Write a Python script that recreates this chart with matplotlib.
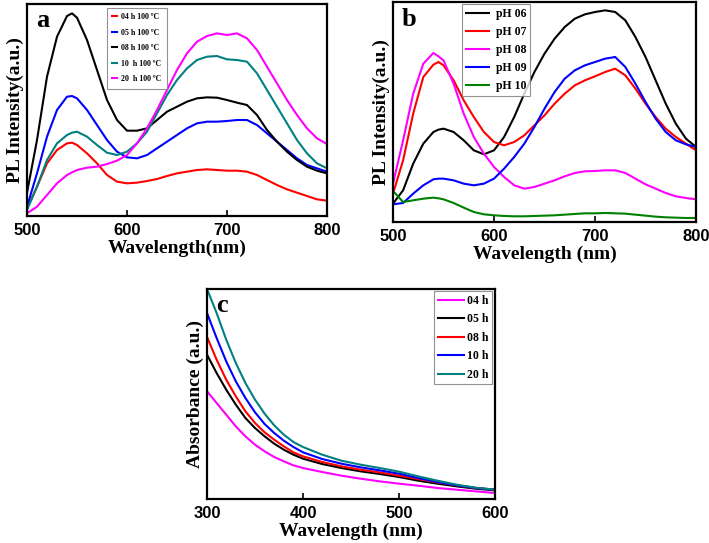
import matplotlib
matplotlib.use('Agg')
import matplotlib.pyplot as plt

# 波长 (nm)
wl_a = [500, 510, 520, 530, 540, 545] + list(range(550, 801, 10))
wl_b = [500, 510, 520, 530, 540, 545] + list(range(550, 801, 10))
wl_c = [300, 310, 320, 330, 340, 350, 360, 370, 380, 390, 400,
        420, 440, 460, 480, 500, 520, 540, 560, 580, 600]

# (a) 不同时间 100 ºC 的 PL 强度
pl_04h = [23, 88, 158, 198, 218, 220, 213, 188, 158, 123, 103, 98, 100, 105, 111, 120, 128,
          133, 138, 140, 138, 136, 136, 133, 123, 108, 93, 80, 70, 60, 50, 46]
pl_05h = [28, 128, 238, 318, 358, 360, 353, 318, 273, 228, 193, 176, 173, 183, 203, 223, 243,
          263, 278, 283, 283, 285, 288, 288, 273, 248, 223, 198, 173, 153, 143, 133]
pl_08h = [70, 228, 418, 538, 600, 608, 595, 528, 438, 348, 288, 256, 256, 263, 288, 313, 328,
          343, 353, 356, 355, 348, 340, 333, 303, 258, 223, 193, 168, 148, 136, 128]
pl_10h = [18, 88, 168, 218, 243, 250, 253, 238, 213, 190, 183, 193, 218, 253, 308, 363, 408,
          443, 468, 478, 480, 470, 468, 463, 428, 378, 328, 278, 228, 188, 158, 143]
pl_20h = [8, 28, 63, 98, 123, 131, 138, 145, 148, 156, 166, 183, 218, 263, 318, 378, 438,
          488, 523, 540, 548, 543, 548, 533, 498, 448, 398, 348, 303, 263, 233, 216]

# (b) 不同 pH 的 PL 强度
pl_ph06 = [55, 95, 175, 235, 270, 277, 280, 270, 245, 215, 203, 215, 255, 315, 385, 450, 505,
           550, 585, 610, 623, 630, 635, 630, 605, 555, 495, 425, 355, 295, 250, 225]
pl_ph07 = [85, 185, 325, 435, 472, 480, 470, 425, 365, 315, 270, 240, 230, 240, 260, 290, 320,
           355, 385, 410, 425, 437, 450, 460, 440, 400, 355, 315, 280, 255, 235, 215]
pl_ph08 = [115, 245, 385, 475, 507, 497, 485, 415, 325, 255, 205, 165, 135, 110, 100, 105, 115,
           125, 137, 147, 152, 153, 155, 155, 147, 130, 113, 100, 87, 77, 72, 68]
pl_ph09 = [53, 57, 85, 110, 128, 130, 130, 125, 115, 110, 115, 130, 160, 195, 235, 285, 340,
           390, 430, 455, 470, 480, 490, 495, 465, 415, 360, 310, 270, 245, 233, 225]
pl_ph10 = [93, 60, 65, 70, 73, 71, 68, 57, 43, 30, 23, 20, 18, 17, 17, 18, 19,
           20, 22, 24, 26, 26, 27, 26, 25, 22, 19, 16, 14, 13, 12, 12]

# (c) 吸收光谱
abs_04h = [323, 288, 253, 218, 188, 163, 143, 126, 113, 101, 93, 81, 70, 61, 53, 46, 40, 33, 28, 23, 18]
abs_05h = [433, 378, 328, 283, 243, 213, 188, 166, 148, 133, 121, 105, 93, 83, 75, 66, 55, 46, 38, 31, 26]
abs_08h = [486, 418, 358, 308, 263, 228, 200, 178, 158, 140, 128, 111, 98, 88, 80, 70, 60, 50, 41, 33, 28]
abs_10h = [558, 483, 413, 353, 303, 260, 225, 198, 175, 156, 140, 120, 106, 95, 86, 76, 63, 51, 41, 33, 28]
abs_20h = [630, 558, 478, 408, 348, 298, 256, 221, 193, 171, 156, 133, 115, 103, 93, 82, 68, 55, 43, 34, 28]

labels_a = ['04 h 100 \u00baC', '05 h 100 \u00baC', '08 h 100 \u00baC', '10  h 100 \u00baC', '20  h 100 \u00baC']
labels_b = ['pH 06', 'pH 07', 'pH 08', 'pH 09', 'pH 10']
labels_c = ['04 h', '05 h', '08 h', '10 h', '20 h']

teal = '#008080'
serif = 'Liberation Serif'
sans = 'Liberation Sans'

fig = plt.figure(figsize=(7.09, 5.43), dpi=100)
ax_a = fig.add_axes([0.0381, 0.6022, 0.4231, 0.3904])
ax_b = fig.add_axes([0.5543, 0.5912, 0.4274, 0.4051])
ax_c = fig.add_axes([0.2920, 0.0810, 0.4062, 0.3867])


def style(ax, xlim, ylim, xticks, xlabel, ylabel, letter):
    ax.set_xlim(*xlim)
    ax.set_ylim(*ylim)
    ax.set_xticks(xticks)
    ax.set_yticks([])
    ax.tick_params(axis='x', direction='in', length=4, width=1.2, pad=5)
    for lab in ax.get_xticklabels():
        lab.set_fontfamily(sans)
        lab.set_fontweight('bold')
        lab.set_fontsize(12)
    for sp in ax.spines.values():
        sp.set_linewidth(1.6)
    ax.set_xlabel(xlabel, fontfamily=serif, fontweight='bold', fontsize=14, labelpad=1)
    ax.set_ylabel(ylabel, fontfamily=serif, fontweight='bold', fontsize=14, labelpad=2)
    ax.text(0.03, 0.975, letter, transform=ax.transAxes, ha='left', va='top',
            fontfamily=serif, fontweight='bold', fontsize=19)


def frame(leg):
    leg.get_frame().set_edgecolor('#777777')
    leg.get_frame().set_linewidth(0.8)


# 图 a
for y, c, lab in zip([pl_04h, pl_05h, pl_08h, pl_10h, pl_20h],
                     ['red', 'blue', 'black', teal, 'magenta'], labels_a):
    ax_a.plot(wl_a, y, color=c, lw=1.5, label=lab)
style(ax_a, (500, 800), (0, 636), [500, 600, 700, 800], 'Wavelength(nm)', 'PL Intensity(a.u.)', 'a')
frame(ax_a.legend(loc='upper left', bbox_to_anchor=(0.265, 0.983), frameon=True, fancybox=False,
                  handlelength=0.6, handletextpad=0.5, labelspacing=0.95, borderpad=0.7,
                  borderaxespad=0, prop={'family': serif, 'weight': 'bold', 'size': 5.7}))

# 图 b
for y, c, lab in zip([pl_ph06, pl_ph07, pl_ph08, pl_ph09, pl_ph10],
                     ['black', 'red', 'magenta', 'blue', 'green'], labels_b):
    ax_b.plot(wl_b, y, color=c, lw=1.5, label=lab)
style(ax_b, (500, 800), (0, 660), [500, 600, 700, 800], 'Wavelength (nm)', 'PL Intensity(a.u.)', 'b')
frame(ax_b.legend(loc='upper left', bbox_to_anchor=(0.228, 0.99), frameon=True, fancybox=False,
                  handlelength=1.9, handletextpad=0.6, labelspacing=0.5, borderpad=0.35,
                  borderaxespad=0, prop={'family': serif, 'weight': 'bold', 'size': 8.5}))

# 图 c
for y, c, lab in zip([abs_04h, abs_05h, abs_08h, abs_10h, abs_20h],
                     ['magenta', 'black', 'red', 'blue', teal], labels_c):
    ax_c.plot(wl_c, y, color=c, lw=1.5, label=lab)
style(ax_c, (300, 600), (0, 630), [300, 400, 500, 600], 'Wavelength (nm)', 'Absorbance (a.u.)', 'c')
frame(ax_c.legend(loc='upper right', bbox_to_anchor=(0.99, 0.99), frameon=True, fancybox=False,
                  handlelength=2.2, handletextpad=0.3, labelspacing=0.55, borderpad=0.3,
                  borderaxespad=0, prop={'family': serif, 'weight': 'bold', 'size': 8.5}))

fig.savefig('out.png', dpi=100)
